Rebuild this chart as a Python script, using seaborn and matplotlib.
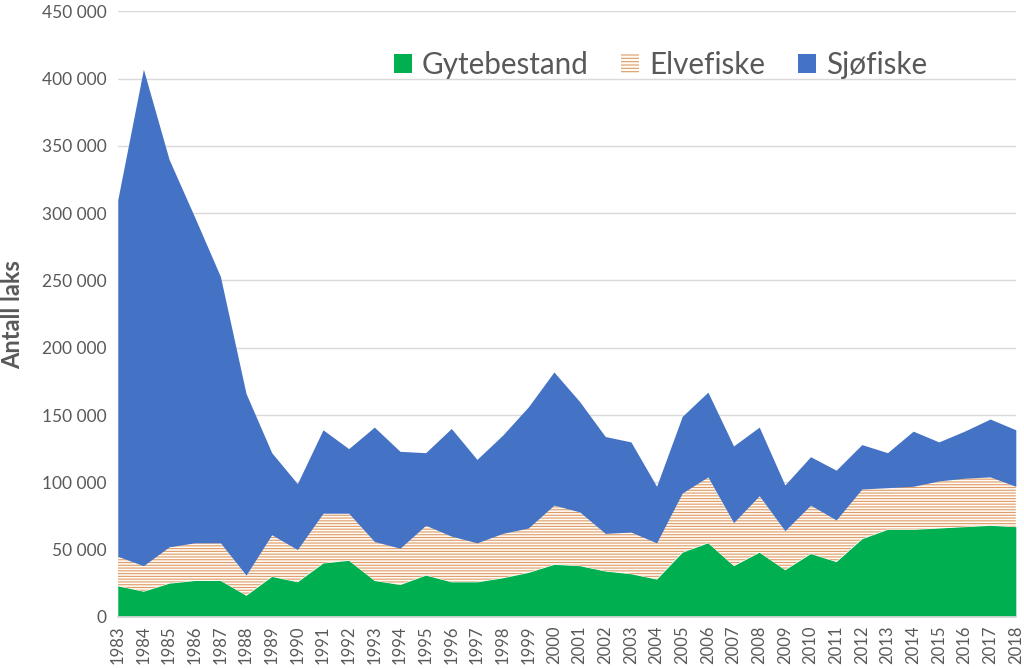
import numpy as np
import pandas as pd
import matplotlib
matplotlib.use('Agg')
import matplotlib.pyplot as plt
from matplotlib.patches import Patch
from matplotlib.ticker import FuncFormatter
import seaborn as sns

# ------------------------------
# Data (antall laks, lest av figuren)
# ------------------------------
years = list(range(1983, 2019))
gytebestand = [23, 19, 25, 27, 27, 16, 30, 26, 40, 42, 27, 24, 31, 26, 26, 29, 33, 39,
               38, 34, 32, 28, 48, 55, 38, 48, 35, 47, 41, 58, 65, 65, 66, 67, 68, 67]
elvefiske = [22, 19, 27, 28, 28, 15, 31, 24, 37, 35, 29, 27, 37, 34, 29, 33, 33, 44,
             40, 28, 31, 27, 44, 49, 32, 42, 29, 36, 31, 37, 31, 32, 35, 36, 36, 30]
sjofiske = [265, 369, 288, 242, 198, 135, 61, 49, 62, 48, 85, 72, 54, 80, 62, 73, 90, 99,
            82, 72, 67, 42, 57, 63, 57, 51, 34, 36, 37, 33, 26, 41, 29, 35, 43, 42]

labels = ['Gytebestand', 'Elvefiske', 'Sjøfiske']

df = pd.DataFrame({'År': years,
                   'Gytebestand': np.array(gytebestand) * 1000,
                   'Elvefiske': np.array(elvefiske) * 1000,
                   'Sjøfiske': np.array(sjofiske) * 1000})

# ------------------------------
# Stil
# ------------------------------
sns.set_theme(style='white')
plt.rcParams['font.family'] = ['Lato', 'DejaVu Sans']
plt.rcParams['hatch.linewidth'] = 0.8
plt.rcParams['hatch.color'] = '#DE9C68'

green = '#00B050'
blue = '#4472C4'
grey_txt = '#595959'

fig = plt.figure(figsize=(10.24, 6.69), dpi=100)
ax = fig.add_axes([0.115, 0.078, 0.877, 0.905])

polys = ax.stackplot(df['År'], df['Gytebestand'], df['Elvefiske'], df['Sjøfiske'],
                     colors=[green, '#FFFBF5', blue], linewidth=0, zorder=2)
polys[1].set_hatch('------')
polys[1].set_edgecolor('#DE9C68')
polys[1].set_linewidth(0)

ax.set_xlim(1983, 2018)
ax.set_ylim(0, 450000)
ax.set_yticks(np.arange(0, 450001, 50000))
ax.yaxis.set_major_formatter(FuncFormatter(lambda v, p: f'{v:,.0f}'.replace(',', ' ')))
ax.set_xticks(years)
ax.set_xticklabels([str(y) for y in years], rotation=90)
ax.tick_params(axis='x', labelsize=12, colors=grey_txt, length=4, color='#D9D9D9', pad=2)
ax.tick_params(axis='y', labelsize=12.5, colors=grey_txt, length=0, pad=8)
ax.grid(axis='y', color='#D9D9D9', linewidth=1, zorder=0)
ax.set_axisbelow(True)

sns.despine(ax=ax, left=True)
ax.spines['bottom'].set_color('#D9D9D9')

ax.set_ylabel('Antall laks', fontsize=17, fontweight='bold', color=grey_txt, labelpad=8)
ax.yaxis.set_label_coords(-0.1045, 0.5)

handles = [Patch(facecolor=green, edgecolor='none'),
           Patch(facecolor='#FFFBF5', edgecolor='#DE9C68', hatch='-----', linewidth=0),
           Patch(facecolor=blue, edgecolor='none')]
fig.legend(handles, labels, loc='center', bbox_to_anchor=(0.645, 0.903), ncol=3,
           frameon=False, fontsize=21.3, handlelength=0.6, handleheight=0.6,
           handletextpad=0.35, columnspacing=1.1, labelcolor=grey_txt)

fig.savefig('out.png', dpi=100)
